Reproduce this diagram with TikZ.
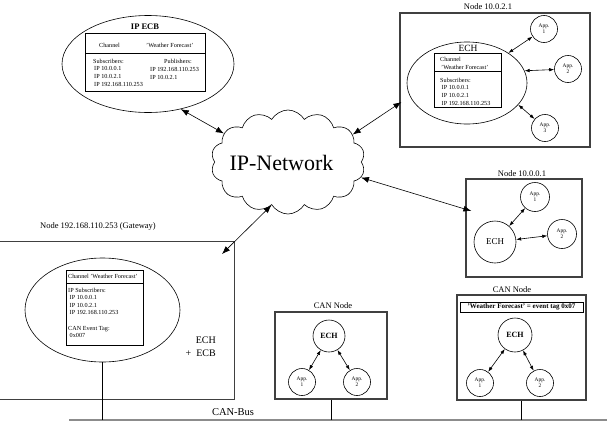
\documentclass[tikz,border=0pt]{standalone}
\usepackage{fontspec}
\setmainfont{Liberation Serif}
\usetikzlibrary{shapes.geometric,shapes.symbols,arrows.meta}
\newcommand\fsz[2]{\fontsize{#1}{#2}\selectfont}
\tikzset{
  bigbox/.style={draw=black!75, line width=1.2pt, inner sep=0pt},
  thinbox/.style={draw, line width=0.7pt, inner sep=0pt},
  ell/.style={ellipse, draw, line width=0.6pt, inner sep=0pt},
  app/.style={circle, draw, line width=0.6pt, minimum size=27pt, inner sep=0pt, align=center, font=\fsz{5.4}{6}},
  txt/.style={inner sep=0pt, align=left, anchor=base west, font=\fsz{6.2}{7.6}},
  lab/.style={inner sep=0pt, font=\fsz{8.5}{10}},
  barr/.style={arrows={Latex[length=8pt,width=6pt]-Latex[length=8pt,width=6pt]}, line width=0.6pt},
  sarr/.style={arrows={Latex[length=5pt,width=3.5pt]-Latex[length=5pt,width=3.5pt]}, line width=0.6pt},
  busline/.style={draw=black!45, line width=1.6pt},
  wire/.style={draw, line width=0.5pt},
}
\begin{document}
\begin{tikzpicture}[x=1pt,y=-1pt]
\useasboundingbox (0,0) rectangle (607,423);

% ---------- IP ECB ----------
\node[ell, minimum width=172pt, minimum height=97pt] (ipecb) at (148,64) {};
\node[thinbox, minimum width=120pt, minimum height=58pt] (ecbbox) at (145,62) {};
\draw[line width=0.7pt] (85,53) -- (206,53);
\node[inner sep=0pt, font=\bfseries\fsz{8.5}{10}] (ecbt) at (145,27) {IP ECB};
\node[txt] (ecbc) at (99,47) {Channel};
\node[txt] (ecbw) at (146,47) {'Weather Forecast'};
\node[txt] (ecbs) at (93,86) {Subscribers:\\\hspace*{1pt}IP 10.0.0.1\\\hspace*{1pt}IP 10.0.2.1\\\hspace*{1pt}IP 192.168.110.253};
\node[txt] (ecbp) at (164,63) {Publishers:};
\node[txt] (ecbpl) at (150,79) {IP 192.168.110.253\\IP 10.0.2.1};

% ---------- Cloud ----------
\node[cloud, draw, line width=0.6pt, cloud puffs=14, cloud puff arc=120, aspect=1.5,
      minimum width=154pt, minimum height=104pt, inner sep=0pt] (cloud) at (288,162) {};
\node[inner sep=0pt, font=\fsz{22}{24}] (nettxt) at (281.5,163) {IP-Network};

% ---------- Node 10.0.2.1 ----------
\node[bigbox, minimum width=190pt, minimum height=134pt] (n2) at (495,80) {};
\node[lab] (n2l) at (488,7) {Node 10.0.2.1};
\node[ell, minimum width=120pt, minimum height=82pt] (n2ech) at (467,83) {};
\node[inner sep=0pt, font=\fsz{9.5}{11}] (n2et) at (468,48) {ECH};
\node[thinbox, minimum width=67pt, minimum height=54pt] (n2box) at (467.5,80) {};
\draw[line width=0.7pt] (434,71) -- (501,71);
\node[txt] (n2c) at (440,69) {Channel\\\hspace*{1pt}'Weather Forecast'};
\node[txt] (n2s) at (440,105) {Subscribers:\\\hspace*{1.5pt}IP 10.0.0.1\\\hspace*{1.5pt}IP 10.0.2.1\\\hspace*{1.5pt}IP 192.168.110.253};
\node[app] (n2a1) at (544,29) {App.\\1};
\node[app] (n2a2) at (568,69) {App.\\2};
\node[app] (n2a3) at (545,128) {App.\\3};
\draw[sarr] (n2ech.36) -- (n2a1);
\draw[sarr] (n2ech.12) -- (n2a2);
\draw[sarr] (n2ech.-23) -- (n2a3);

% ---------- Node 10.0.0.1 ----------
\node[bigbox, minimum width=116pt, minimum height=98pt] (n1) at (524,228) {};
\node[lab] (n1l) at (522,174) {Node 10.0.0.1};
\node[circle, draw, line width=0.6pt, minimum size=42pt, inner sep=0pt, font=\fsz{9}{10}] (n1ech) at (495,242) {ECH};
\node[app, minimum size=29pt] (n1a1) at (535,197) {App.\\1};
\node[app, minimum size=29pt] (n1a2) at (562,234) {App.\\2};
\draw[sarr] (n1ech) -- (n1a1);
\draw[sarr] (n1ech) -- (n1a2);

% ---------- Gateway ----------
\coordinate (gwTL) at (0,241);
\coordinate (gwc) at (234,241);
\coordinate (gwBR) at (234,399);
\coordinate (gwBL) at (0,399);
\draw[draw=black!75, line width=1pt] (gwTL) -- (gwc) -- (gwBR) -- (gwBL);
\node[lab, anchor=west] (gwl) at (40,226) {Node 192.168.110.253 (Gateway)};
\node[ell, minimum width=155pt, minimum height=104pt] (gwell) at (102.5,310) {};
\node[thinbox, minimum width=77pt, minimum height=75pt] (gwbox) at (104.5,307.5) {};
\draw[line width=0.7pt] (66,283) -- (143,283);
\node[txt] (gwc1) at (68,278) {Channel 'Weather Forecast'};
\node[txt] (gws) at (68,337.6) {IP Subscribers:\\\hspace*{1.5pt}IP 10.0.0.1\\\hspace*{1.5pt}IP 10.0.2.1\\\hspace*{1.5pt}IP 192.168.110.253\\[7.6pt]CAN Event Tag:\\\hspace*{1.5pt}0x007};
\node[inner sep=0pt, align=right, anchor=north east, font=\fsz{10}{13}] (gwt) at (216,337) {ECH\\+\ \ ECB};

% ---------- CAN bus ----------
\coordinate (busL) at (69,420);
\coordinate (busR) at (607,420);
\draw[busline] (busL) -- (busR);
\node[inner sep=0pt, font=\fsz{10.5}{12}] (busl) at (233,412) {CAN-Bus};
\draw[wire] (gwell.south) -- (gwell.south |- busL);

% ---------- CAN Node 1 ----------
\node[bigbox, minimum width=112pt, minimum height=87pt] (c1) at (331,355.5) {};
\node[lab] (c1l) at (333,306) {CAN Node};
\node[circle, draw, line width=0.6pt, minimum size=32pt, inner sep=0pt, font=\bfseries\fsz{8}{9}] (c1ech) at (329,336) {ECH};
\node[app] (c1a1) at (302,382) {App.\\1};
\node[app] (c1a2) at (357,382) {App.\\2};
\draw[sarr] (c1ech) -- (c1a1);
\draw[sarr] (c1ech) -- (c1a2);
\draw[wire] (c1.south) -- (c1.south |- busL);

% ---------- CAN Node 2 ----------
\node[bigbox, minimum width=129pt, minimum height=105pt] (c2) at (521.5,347.5) {};
\node[lab] (c2l) at (512,290) {CAN Node};
\node[thinbox, minimum width=123pt, minimum height=10pt, font=\bfseries\fsz{7}{8}] (c2t) at (521.5,307) {'Weather Forecast' = event tag 0x07};
\node[circle, draw, line width=0.6pt, minimum size=34pt, inner sep=0pt, font=\bfseries\fsz{8}{9}] (c2ech) at (515,335) {ECH};
\node[app] (c2a1) at (480,383) {App.\\1};
\node[app] (c2a2) at (540,383) {App.\\2};
\draw[sarr] (c2ech) -- (c2a1);
\draw[sarr] (c2ech) -- (c2a2);
\draw[wire] (c2.south) -- (c2.south |- busL);

% ---------- Network connections ----------
\draw[barr] (ipecb.-54) -- (cloud.156);
\draw[barr] (cloud.23) -- ([shift={(2,22)}]n2.west);
\draw[barr] (cloud.-12) -- ([shift={(6,-17)}]n1.west);
\draw[barr] (cloud.-111) -- ([shift={(-12,13)}]gwc);
\end{tikzpicture}
\end{document}
